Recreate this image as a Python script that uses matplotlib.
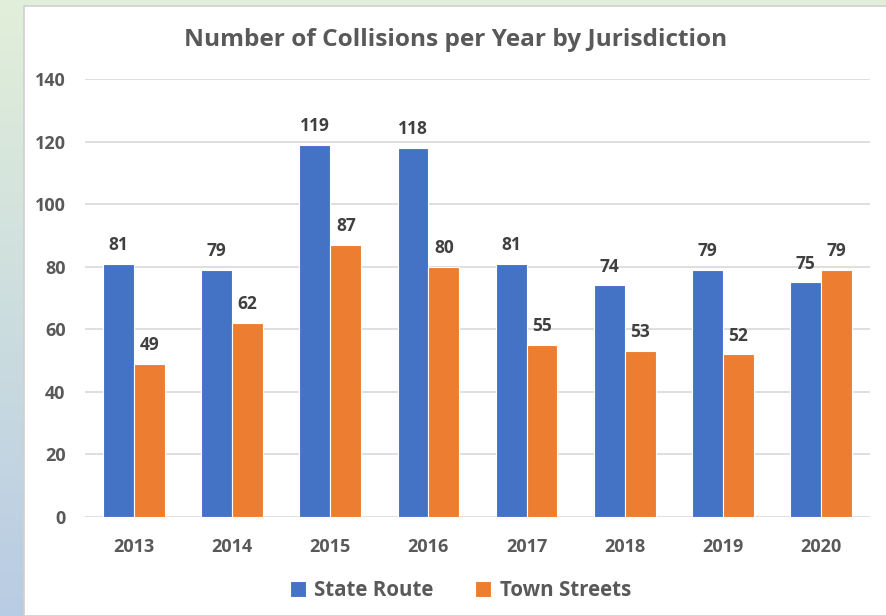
import numpy as np
import matplotlib.pyplot as plt
from matplotlib.patches import Rectangle

years = ['2013', '2014', '2015', '2016', '2017', '2018', '2019', '2020']
state_route = [81, 79, 119, 118, 81, 74, 79, 75]
town_streets = [49, 62, 87, 80, 55, 53, 52, 79]

plt.rcParams['font.family'] = ['Open Sans', 'DejaVu Sans']
txt = '#595959'

fig = plt.figure(figsize=(8.87, 6.16), dpi=100)

# background gradient (green at top, blue at bottom)
bg = fig.add_axes([0, 0, 1, 1], zorder=-10)
grad = np.linspace(0, 1, 256).reshape(-1, 1)
top = np.array([0.886, 0.937, 0.851])
bot = np.array([0.722, 0.800, 0.894])
img = top[None, None, :] * (1 - grad[:, :, None]) + bot[None, None, :] * grad[:, :, None]
bg.imshow(img, aspect='auto', extent=[0, 1, 0, 1])
bg.add_patch(Rectangle((24 / 887, 0), 1, 1 - 6 / 616, facecolor='white',
                       edgecolor='#d0d0d0', linewidth=1.2))
bg.set_xlim(0, 1)
bg.set_ylim(0, 1)
bg.axis('off')

ax = fig.add_axes([85 / 887, 1 - 517 / 616, 785 / 887, 438 / 616])
ax.set_facecolor('none')
x = np.arange(len(years))
w = 0.315
b1 = ax.bar(x - w / 2, state_route, w, color='#4472C4', edgecolor='white', linewidth=0.8,
            label='State Route', zorder=3)
b2 = ax.bar(x + w / 2, town_streets, w, color='#ED7D31', edgecolor='white', linewidth=0.8,
            label='Town Streets', zorder=3)

for bars in (b1, b2):
    for r in bars:
        ax.annotate(f'{int(r.get_height())}', (r.get_x() + r.get_width() / 2, r.get_height()),
                    xytext=(0, 7), textcoords='offset points', ha='center', va='bottom',
                    fontsize=12.5, fontweight='bold', color='#404040')

ax.set_xlim(-0.5, len(years) - 0.5)
ax.set_ylim(0, 140)
ax.set_yticks(range(0, 141, 20))
ax.set_xticks(x)
ax.set_xticklabels(years)
ax.grid(axis='y', color='#d9d9d9', linewidth=1.2, zorder=0)
for s in ax.spines.values():
    s.set_visible(False)
ax.tick_params(length=0, labelsize=13, labelcolor=txt, pad=14)
ax.tick_params(axis='x', pad=15)
for lab in ax.get_xticklabels() + ax.get_yticklabels():
    lab.set_fontweight('bold')

fig.text(0.514, 0.935, 'Number of Collisions per Year by Jurisdiction', ha='center', va='center',
         fontsize=17.6, fontweight='bold', color=txt)

leg = fig.legend(loc='center', bbox_to_anchor=(0.519, 1 - 591 / 616), ncol=2, frameon=False,
                 prop={'size': 14.8, 'weight': 'bold'}, handlelength=0.8, handleheight=0.8,
                 columnspacing=2.0, handletextpad=0.4)
for t in leg.get_texts():
    t.set_color(txt)

fig.savefig('out.png', dpi=100)
